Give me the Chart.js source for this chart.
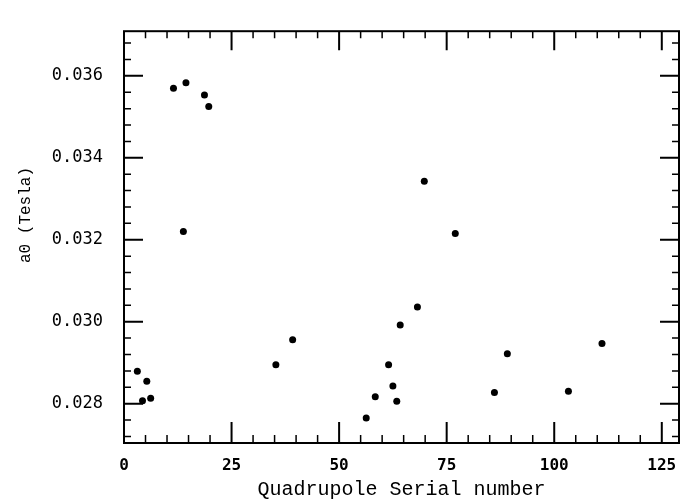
<!DOCTYPE html>
<html>
<head>
<meta charset="utf-8">
<script src="https://cdn.jsdelivr.net/npm/chart.js@4.4.1/dist/chart.umd.min.js"></script>
<style>
  html, body { margin: 0; padding: 0; background: #fff; }
  #chart { display: block; }
</style>
</head>
<body>
<canvas id="chart" width="690" height="504"></canvas>
<script>
// serial number of each quadrupole and its a0 value (Tesla)
const serialNumbers = [3.1, 4.3, 5.3, 6.2, 11.5, 13.8, 14.4, 18.7, 19.7, 35.3, 39.2, 56.3,
    58.4, 61.5, 62.5, 63.4, 64.2, 68.2, 69.8, 77.0, 86.1, 89.1, 103.3, 111.1];
const a0Values = [0.02879, 0.02807, 0.02855, 0.02813, 0.0357, 0.0322, 0.03583, 0.03553, 0.03525,
    0.02895, 0.02956, 0.02765, 0.02817, 0.02895, 0.02843, 0.02806, 0.02992, 0.03036, 0.03343,
    0.03215, 0.02827, 0.02922, 0.0283, 0.02947];

const xTickValues = [0, 25, 50, 75, 100, 125];
const yTickValues = [0.028, 0.030, 0.032, 0.034, 0.036];

const xLimits = [0, 129];
const yLimits = [0.02704, 0.03709];

const xMinorStep = 5;
const yMinorStep = 0.0004;

const yTitle = 'a0 (Tesla)';

// frame with inward ticks on all four sides, like the old plot
const frameTicks = {
    id: 'frameTicks',
    afterDatasetsDraw(chart) {
        const { ctx, chartArea: a, scales: { x, y } } = chart;
        ctx.save();
        ctx.strokeStyle = '#000';
        ctx.lineCap = 'butt';

        // minor ticks
        ctx.lineWidth = 1.5;
        ctx.beginPath();
        for (let v = xLimits[0] + xMinorStep; v < xLimits[1]; v += xMinorStep) {
            if (xTickValues.some(t => Math.abs(t - v) < 1e-9)) continue;
            const px = x.getPixelForValue(v);
            ctx.moveTo(px, a.bottom); ctx.lineTo(px, a.bottom - 8);
            ctx.moveTo(px, a.top); ctx.lineTo(px, a.top + 7);
        }
        for (let i = 1; ; i++) {
            const v = 0.028 + (i - 3) * yMinorStep;
            if (v > yLimits[1]) break;
            if (v < yLimits[0]) continue;
            if (yTickValues.some(t => Math.abs(t - v) < 1e-9)) continue;
            const py = y.getPixelForValue(v);
            ctx.moveTo(a.left, py); ctx.lineTo(a.left + 7, py);
            ctx.moveTo(a.right, py); ctx.lineTo(a.right - 7, py);
        }
        ctx.stroke();

        // major ticks
        ctx.lineWidth = 2;
        ctx.beginPath();
        xTickValues.forEach(v => {
            const px = x.getPixelForValue(v);
            ctx.moveTo(px, a.bottom); ctx.lineTo(px, a.bottom - 21);
            ctx.moveTo(px, a.top); ctx.lineTo(px, a.top + 19);
        });
        yTickValues.forEach(v => {
            const py = y.getPixelForValue(v);
            ctx.moveTo(a.left, py); ctx.lineTo(a.left + 19, py);
            ctx.moveTo(a.right, py); ctx.lineTo(a.right - 19, py);
        });
        ctx.stroke();

        ctx.lineWidth = 2;
        ctx.strokeRect(a.left, a.top, a.right - a.left, a.bottom - a.top);

        // y title, sits a bit above the middle of the axis in the original
        ctx.fillStyle = '#000';
        ctx.font = '16px "Liberation Mono"';
        ctx.textAlign = 'center';
        ctx.textBaseline = 'middle';
        ctx.translate(26, 215);
        ctx.rotate(-Math.PI / 2);
        ctx.fillText(yTitle, 0, 0);
        ctx.restore();
    }
};

const ctx = document.getElementById('chart').getContext('2d');

new Chart(ctx, {
    type: 'scatter',
    data: {
        datasets: [{
            data: serialNumbers.map((s, i) => ({ x: s, y: a0Values[i] })),
            backgroundColor: '#000',
            borderWidth: 0,
            pointRadius: 3.5
        }]
    },
    options: {
        responsive: false,
        devicePixelRatio: 1,
        animation: false,
        layout: { padding: { top: 12, right: 11, left: 0, bottom: 0 } },
        plugins: { legend: { display: false }, tooltip: { enabled: false } },
        scales: {
            x: {
                type: 'linear',
                min: xLimits[0],
                max: xLimits[1],
                grid: { display: false, drawTicks: false },
                border: { display: false },
                afterBuildTicks: s => { s.ticks = xTickValues.map(v => ({ value: v })); },
                afterFit: s => { s.height = 61; },
                ticks: {
                    color: '#000',
                    padding: 13,
                    maxRotation: 0,
                    font: { family: 'DejaVu Sans Mono', size: 16, weight: 'bold' }
                },
                title: {
                    display: true,
                    text: 'Quadrupole Serial number',
                    color: '#000',
                    padding: { top: 0, bottom: 2 },
                    font: { family: 'Liberation Mono', size: 20 }
                }
            },
            y: {
                type: 'linear',
                min: yLimits[0],
                max: yLimits[1],
                grid: { display: false, drawTicks: false },
                border: { display: false },
                afterBuildTicks: s => { s.ticks = yTickValues.map(v => ({ value: v })); },
                afterFit: s => { s.width = 124; },
                ticks: {
                    color: '#000',
                    padding: 21,
                    font: { family: 'DejaVu Sans Mono', size: 17 },
                    callback: v => v.toFixed(3)
                }
            }
        }
    },
    plugins: [frameTicks]
});
</script>
</body>
</html>
